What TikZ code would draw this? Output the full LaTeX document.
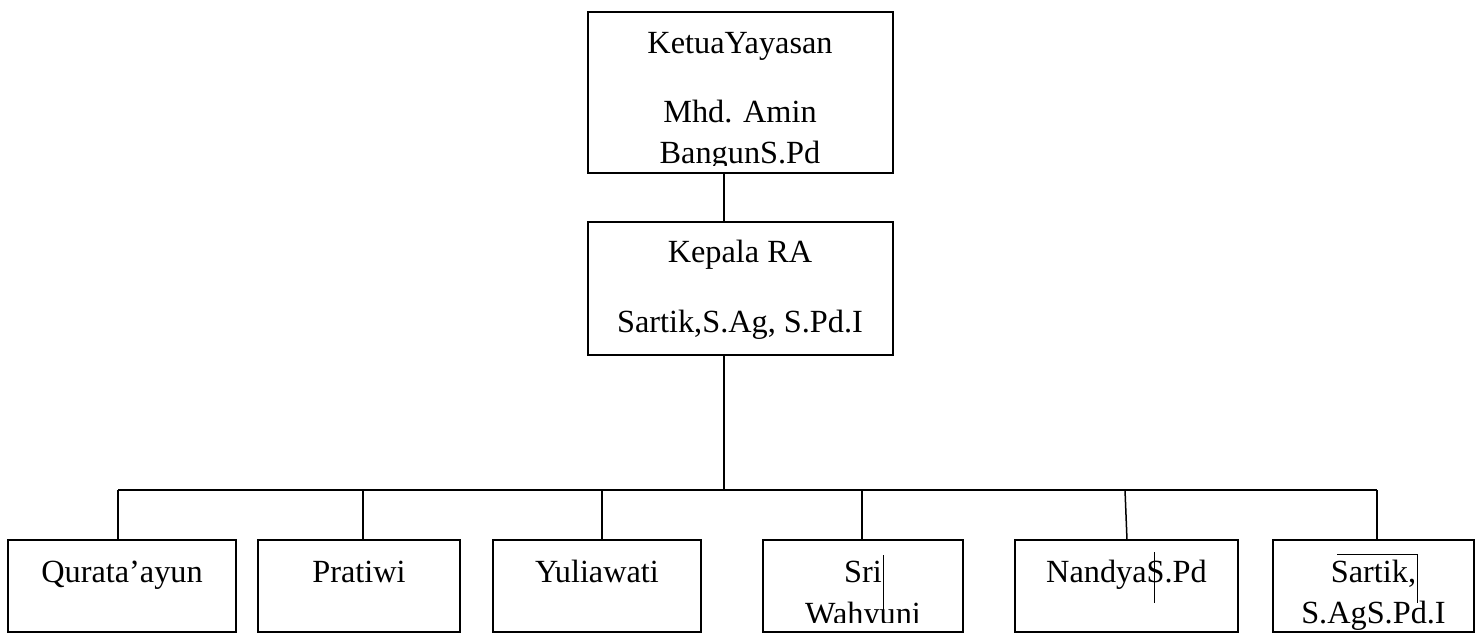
\documentclass[tikz,border=0pt]{standalone}
\usepackage{fontspec}
\setmainfont{Liberation Serif}
\begin{document}
\begin{tikzpicture}[x=1pt,y=-1pt,
  box/.style={draw=black, line width=1.8pt, rectangle, inner sep=0pt},
  lbl/.style={anchor=base, inner sep=0pt, font=\fontsize{32.3}{36}\selectfont},
  conn/.style={draw=black, line width=1.5pt},
  stray/.style={draw=black, line width=0.8pt}]
\useasboundingbox (0,0) rectangle (1482,633);
% boxes
\node[box, minimum width=305, minimum height=161] (ketua) at (740.5,92.5) {};
\node[box, minimum width=305, minimum height=133] (kepala) at (740.5,288.5) {};
\node[box, minimum width=228, minimum height=92] (b1) at (122,586) {};
\node[box, minimum width=202, minimum height=92] (b2) at (359,586) {};
\node[box, minimum width=208, minimum height=92] (b3) at (597,586) {};
\node[box, minimum width=200, minimum height=92] (b4) at (863,586) {};
\node[box, minimum width=223, minimum height=92] (b5) at (1126.5,586) {};
\node[box, minimum width=201, minimum height=92] (b6) at (1373.5,586) {};
% texts
\node[lbl] (t1) at (740,53) {KetuaYayasan};
\node[lbl] (t2) at (740,122) {Mhd. Amin};
\begin{scope}
\clip (600,130) rectangle (880,165);
\node[lbl] (t3) at (740,163) {BangunS.Pd};
\end{scope}
\node[lbl] (t4) at (740,262) {Kepala RA};
\node[lbl] (t5) at (740,332) {Sartik,S.Ag, S.Pd.I};
\node[lbl] (q1) at (122,582) {Qurata’ayun};
\node[lbl] (q2) at (359,582) {Pratiwi};
\node[lbl] (q3) at (597,582) {Yuliawati};
\node[lbl] (q4) at (863,582) {Sri};
\begin{scope}
\clip (770,590) rectangle (960,622);
\node[lbl] (q4b) at (863,624) {Wahyuni};
\end{scope}
\node[lbl] (q5) at (1126.5,582) {NandyaS.Pd};
\node[lbl] (q6) at (1373.5,582) {Sartik,};
\node[lbl] (q6b) at (1373.5,623) {S.AgS.Pd.I};
% connectors
\coordinate (kb) at (724,173);
\coordinate (kt) at (724,222);
\coordinate (kc) at (724,355);
\coordinate (bus) at (724,490);
\coordinate (j1) at (118,490);
\coordinate (j2) at (363,490);
\coordinate (j3) at (602,490);
\coordinate (j4) at (862,490);
\coordinate (j5) at (1125,490);
\coordinate (j6) at (1377,490);
\draw[conn] (kb) -- (kt);
\draw[conn] (kc) -- (bus);
\draw[conn] (j1) -- (j6);
\draw[conn] (j1) -- (j1 |- b1.north);
\draw[conn] (j2) -- (j2 |- b2.north);
\draw[conn] (j3) -- (j3 |- b3.north);
\draw[conn] (j4) -- (j4 |- b4.north);
\draw[conn] (j5) -- (1127,540);
\draw[conn] (j6) -- (j6 |- b6.north);
% stray marks
\draw[stray] (883,555) -- (883,610);
\draw[stray] (1154,552) -- (1154,603);
\draw[stray] (1337,554) -- (1417,554) -- (1417,603);
\end{tikzpicture}
\end{document}
